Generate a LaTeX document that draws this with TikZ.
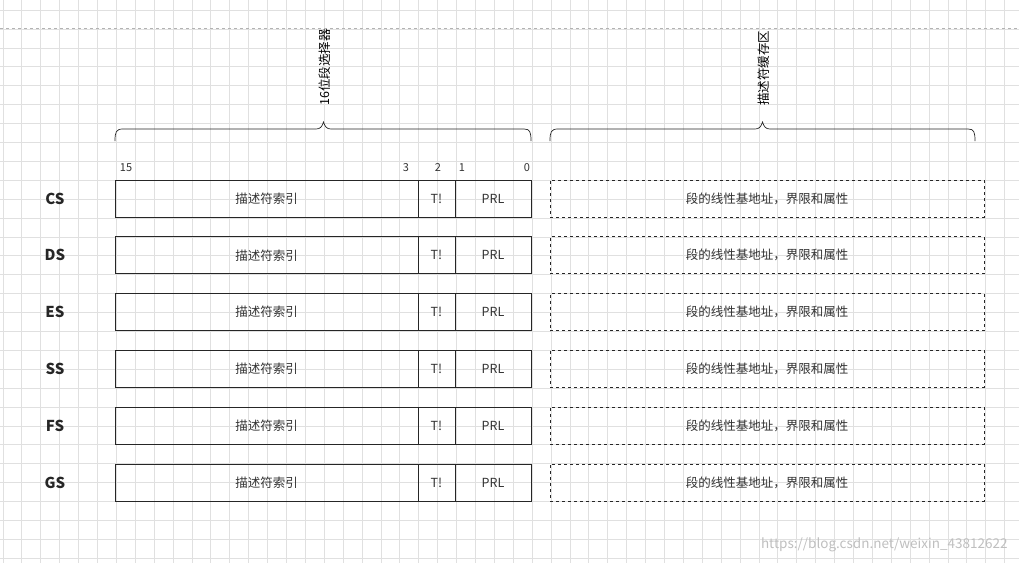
\documentclass[tikz,border=0pt]{standalone}
\usepackage{fontspec}
\setmainfont{Noto Sans CJK SC}
\begin{document}
\begin{tikzpicture}[x=1pt,y=-1pt,
  cell/.style={draw=black!85,line width=0.7pt,minimum height=37pt,inner sep=0pt,font=\fontsize{12.5}{14}\selectfont,text=black!80},
  dbox/.style={cell,dashed,minimum width=434pt},
  reg/.style={font=\bfseries\fontsize{15}{17}\selectfont,text=black!85},
  bit/.style={font=\fontsize{11}{12}\selectfont,text=black!80},
  brace/.style={draw=black!85,line width=0.7pt}]
\fill[white] (0,0) rectangle (1019,563);
\useasboundingbox (0,0) rectangle (1019,563);
\foreach \i in {0,...,53} \draw[black!12,line width=0.6pt] (2.8+18.9*\i,0) -- (2.8+18.9*\i,563);
\foreach \i in {0,...,29} \draw[black!12,line width=0.6pt] (0,10+18.9*\i) -- (1019,10+18.9*\i);
\draw[black!30,dashed,line width=0.5pt] (0,28.5) -- (1019,28.5);
% braces
\draw[brace] (115,141) .. controls (115,132) and (116,129) .. (123,129) -- (316,129) .. controls (320,129) and (322,127) .. (323.5,122) .. controls (325,127) and (327,129) .. (331,129) -- (524,129) .. controls (530,129) and (531,132) .. (531,141);
\draw[brace] (550,141) .. controls (550,132) and (551,129) .. (558,129) -- (755,129) .. controls (759,129) and (761,127) .. (762.5,122) .. controls (764,127) and (766,129) .. (770,129) -- (968,129) .. controls (974,129) and (975,132) .. (975,141);
\begin{scope}[x=1pt,y=1pt]
\node[rotate=90,anchor=west,inner sep=1pt,font=\fontsize{12.5}{14}\selectfont] (t1) at (325,-107) {16位段选择器};
\node[rotate=90,anchor=west,inner sep=1pt,font=\fontsize{12.5}{14}\selectfont] (t2) at (764,-107) {描述符缓存区};
\end{scope}
\node[bit] (b15) at (126,168) {15};
\node[bit] (b3) at (406,168) {3};
\node[bit] (b2) at (438,168) {2};
\node[bit] (b1) at (462,168) {1};
\node[bit] (b0) at (527,168) {0};
\foreach \r [count=\k from 0] in {CS,DS,ES,SS,FS,GS} {
  \pgfmathsetmacro{\yy}{198.5+56.8*\k}
  \node[reg] (l\r) at (55,\yy) {\r};
  \node[cell,minimum width=303pt] (d\r) at (266.5,\yy) {描述符索引};
  \node[cell,minimum width=37pt] (t\r) at (436.5,\yy) {T!};
  \node[cell,minimum width=76pt] (p\r) at (493,\yy) {PRL};
  \node[dbox] (c\r) at (767,\yy) {段的线性基地址，界限和属性};
}
\node[anchor=east,text=black!25,font=\fontsize{13.5}{15}\selectfont] (wm) at (1011,545) {https://blog.csdn.net/weixin\_43812622};
\end{tikzpicture}
\end{document}
